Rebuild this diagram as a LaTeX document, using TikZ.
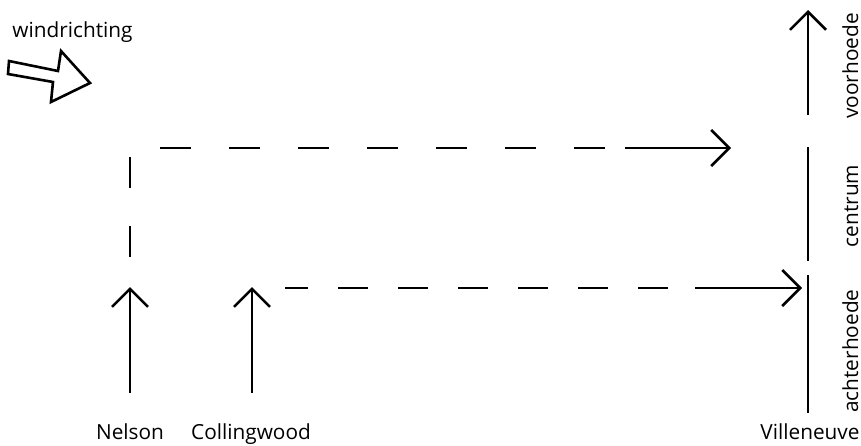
\documentclass[tikz,border=0pt]{standalone}
\usepackage{fontspec}
\setmainfont{Open Sans}
\usetikzlibrary{arrows.meta}
\begin{document}
\begin{tikzpicture}[x=.5pt,y=-.5pt,line join=miter,line cap=butt,>={Straight Barb[length=9pt,width=18pt]}]
	\tikzset{every node/.style={font=\fontsize{10.4}{12}\selectfont,inner sep=0pt},
		lijn/.style={line width=1.25pt},
		zijlabel/.style={rotate=90,anchor=base}}
				 	\def\xn{130} \def\xc{252} \def\xv{808}
				 	\def\yb{393} \def\ytip{287} \def\ya{148} \def\yc{288}
				 	\useasboundingbox (0,0) rectangle (861,445);
	% windrichting
	\node[anchor=base west] (wind) at (12,37) {windrichting};
	\draw[line width=1.3pt] (9,61)--(58,71)--(61,51)--(90,83)--(51,102)--(53,82)--(8,74)--cycle;
	% schepen
	\coordinate (nelson0) at (\xn,\yb);   \coordinate (nelson1) at (\xn,\ytip);
	\coordinate (colling0) at (\xc,\yb);  \coordinate (colling1) at (\xc,\ytip);
	\draw[lijn,->] (nelson0)--(nelson1);
	\draw[lijn,->] (colling0)--(colling1);
	\node[anchor=base] (nelson) at (\xn,439) {Nelson};
	\node[anchor=base] (colling) at (251,439) {Collingwood};
	% route Nelson
	\coordinate (n1) at (\xn,157); \coordinate (n2) at (\xn,257);
	\coordinate (n3) at (160,\ya); \coordinate (n4) at (605,\ya);
	\coordinate (n5) at (625,\ya); \coordinate (n6) at (731,\ya);
	\draw[lijn,dash pattern=on 15.5pt off 19pt] (n1)--(n2);
	\draw[lijn,dash pattern=on 15.5pt off 19pt] (n3)--(n4);
	\draw[lijn,->] (n5)--(n6);
	% route Collingwood
	\coordinate (c1) at (285,\yc); \coordinate (c2) at (670,\yc);
	\coordinate (c3) at (695,\yc); \coordinate (c4) at (802,\yc);
	\draw[lijn,dash pattern=on 15pt off 15pt,dash phase=3.5pt] (c1)--(c2);
	\draw[lijn,->] (c3)--(c4);
	% Villeneuve
	\coordinate (v1) at (\xv,115); \coordinate (v2) at (\xv,10);
	\coordinate (v3) at (\xv,147); \coordinate (v4) at (\xv,261);
	\coordinate (v5) at (\xv,275); \coordinate (v6) at (\xv,413);
	\draw[lijn,->] (v1)--(v2);
	\draw[lijn] (v3)--(v4);
	\draw[lijn] (v5)--(v6);
	\node[zijlabel] (voor) at (858,66) {voorhoede};
	\node[zijlabel] (centrum) at (858,206) {centrum};
	\node[zijlabel] (achter) at (858,351) {achterhoede};
	\node[anchor=base] (ville) at (810,439) {Villeneuve};
				 \end{tikzpicture}
\end{document}
